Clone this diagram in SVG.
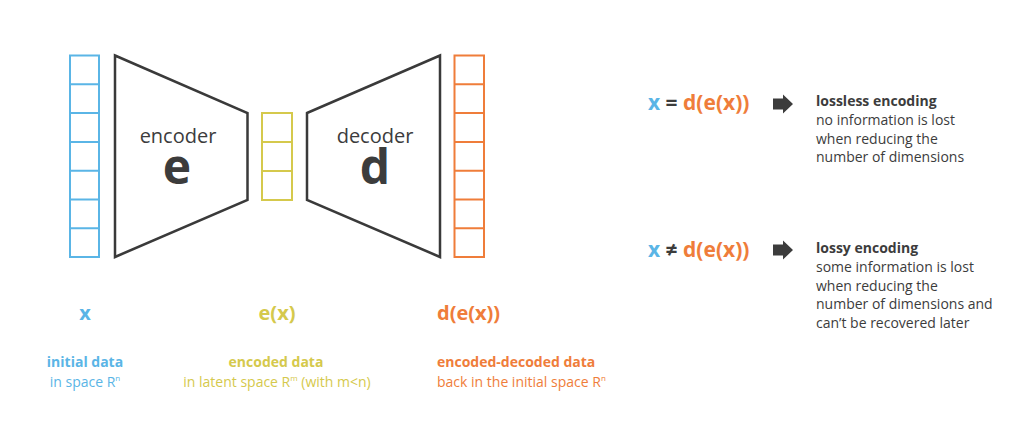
<svg xmlns="http://www.w3.org/2000/svg" width="1024" height="431" viewBox="0 0 1024 431">
<style>
.t{font-family:"Open Sans","Liberation Sans",sans-serif}
.b{font-weight:bold}
.blue{fill:#5ab5e6}
.yel{fill:#d5c94c}
.org{fill:#ef7d3a}
.dk{fill:#3c3c3c}
.cb{fill:none;stroke:#5ab5e6;stroke-width:2}
.cy{fill:none;stroke:#d5c94c;stroke-width:2}
.co{fill:none;stroke:#ef7d3a;stroke-width:2}
.trap{fill:none;stroke:#3a3a3a;stroke-width:2.5;stroke-linejoin:miter}
</style>
<rect width="1024" height="431" fill="#ffffff"/>
<g id="input-x">
<rect class="cb" x="70" y="55.5" width="29" height="201.5"/>
<path class="cb" d="M70 84.3H99M70 113.1H99M70 141.9H99M70 170.7H99M70 199.5H99M70 228.3H99"/>
</g>
<g id="encoder">
<polygon class="trap" points="115,55.5 247.5,113 247.5,200 115,257"/>
<text class="t dk" x="178" y="143" font-size="20" text-anchor="middle">encoder</text>
<text class="t dk b" x="177" y="184" font-size="48" text-anchor="middle">e</text>
</g>
<g id="latent-ex">
<rect class="cy" x="262" y="113" width="30" height="87"/>
<path class="cy" d="M262 142H292M262 171H292"/>
</g>
<g id="decoder">
<polygon class="trap" points="307,113 440,55.5 440,257 307,200"/>
<text class="t dk" x="375" y="143" font-size="20" text-anchor="middle">decoder</text>
<text class="t dk b" x="375" y="184" font-size="48" text-anchor="middle">d</text>
</g>
<g id="output-dex">
<rect class="co" x="454.5" y="55.5" width="29.5" height="201.5"/>
<path class="co" d="M454.5 84.3H484M454.5 113.1H484M454.5 141.9H484M454.5 170.7H484M454.5 199.5H484M454.5 228.3H484"/>
</g>
<g id="label-x">
<text class="t b blue" x="85" y="320" font-size="20" text-anchor="middle">x</text>
<text class="t b blue" x="85" y="367" font-size="14" text-anchor="middle">initial data</text>
<text class="t blue" x="85" y="387" font-size="14" text-anchor="middle">in space R<tspan font-size="8" dy="-6">n</tspan></text>
</g>
<g id="label-ex">
<text class="t b yel" x="277" y="320" font-size="20" text-anchor="middle">e(x)</text>
<text class="t b yel" x="276" y="367" font-size="14" text-anchor="middle">encoded data</text>
<text class="t yel" x="277" y="387" font-size="14" text-anchor="middle">in latent space R<tspan font-size="8" dy="-6">m</tspan><tspan dy="6"> (with m&lt;n)</tspan></text>
</g>
<g id="label-dex">
<text class="t b org" x="437" y="320" font-size="20">d(e(x))</text>
<text class="t b org" x="437" y="367" font-size="14">encoded-decoded data</text>
<text class="t org" x="437" y="387" font-size="14">back in the initial space R<tspan font-size="8" dy="-6">n</tspan></text>
</g>
<g id="lossless">
<text class="t b" x="648" y="110" font-size="21"><tspan class="blue">x</tspan><tspan class="dk"> = </tspan><tspan class="org">d(e(x))</tspan></text>
<text class="t dk b" x="816" y="106" font-size="14">lossless encoding</text>
<text class="t dk" font-size="14"><tspan x="816" y="125">no information is lost</tspan><tspan x="816" y="143.5">when reducing the</tspan><tspan x="816" y="162">number of dimensions</tspan></text>
</g>
<g id="lossy">
<text class="t b" x="648" y="257" font-size="21"><tspan class="blue">x</tspan><tspan class="dk"> ≠ </tspan><tspan class="org">d(e(x))</tspan></text>
<text class="t dk b" x="816" y="253" font-size="14">lossy encoding</text>
<text class="t dk" font-size="14"><tspan x="816" y="272">some information is lost</tspan><tspan x="816" y="290.5">when reducing the</tspan><tspan x="816" y="309">number of dimensions and</tspan><tspan x="816" y="327.5">can’t be recovered later</tspan></text>
</g>
<g id="connectors">
<polygon class="dk" points="773,98.5 783,98.5 783,94.5 793,104 783,113.5 783,109.5 773,109.5"/>
<polygon class="dk" points="773,244.5 783,244.5 783,240.5 793,250 783,259.5 783,255.5 773,255.5"/>
</g>
</svg>
